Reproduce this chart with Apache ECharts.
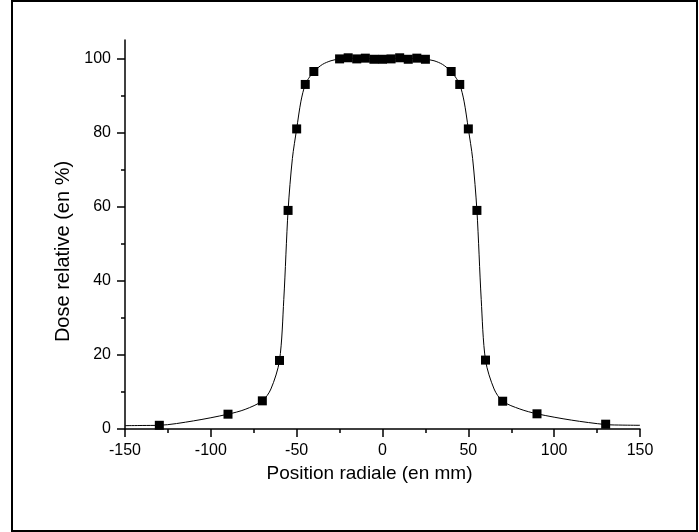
<!DOCTYPE html>
<html lang="fr">
<head>
    <meta charset="UTF-8">
    <title>Dose relative</title>
    <script src="https://cdn.jsdelivr.net/npm/echarts@6/dist/echarts.min.js"></script>
    <style>
        body{
            margin: 0;
            background: #fff;
        }
        #chart{
            width: 699px;
            height: 532px;
        }
    </style>
</head>
<body>
<div id="chart"></div>
<script>
    // points mesurés (carrés)
    var pointX = [-130, -90, -70, -60, -55, -50, -45, -40, -25, -20, -15, -10, -5, 0, 5, 10, 15, 20, 25, 40, 45, 50, 55, 60, 70, 90, 130];
    var pointY = [1.0, 4.0, 7.6, 18.5, 59, 81, 93, 96.5, 99.9, 100.2, 99.9, 100.1, 99.8, 99.8, 99.9, 100.2, 99.8, 100.1, 99.8, 96.5, 93, 81, 59, 18.6, 7.5, 4.1, 1.3];

    // courbe d'ajustement
    var curveX = [-150, -140, -130, -110, -90, -80, -70, -65, -60, -57.5, -55, -52.5, -50, -47.5, -45, -42.5, -40, -35, -30, -25, -20, -15, -10, -5, 0, 5, 10, 15, 20, 25, 30, 35, 40, 42.5, 45, 47.5, 50, 52.5, 55, 57.5, 60, 65, 70, 80, 90, 110, 130, 140, 150];
    var curveY = [0.9, 0.95, 1.0, 2.2, 4.0, 5.3, 7.6, 10.8, 18.5, 35, 59, 73, 81, 88.5, 93, 95, 96.5, 98.4, 99.4, 99.9, 100.1, 100, 100, 99.9, 99.8, 99.9, 100.1, 100, 100, 99.8, 99.4, 98.4, 96.5, 95, 93, 88.5, 81, 73, 59, 35, 18.6, 10.8, 7.5, 5.4, 4.1, 2.4, 1.2, 1.05, 1.0];

    var xTicks = [-150, -100, -50, 0, 50, 100, 150];
    var xMinorTicks = [-125, -75, -25, 25, 75, 125];
    var yTicks = [0, 20, 40, 60, 80, 100];
    var yMinorTicks = [10, 30, 50, 70, 90];

    var pts = [], curve = [];
    for (var i = 0; i < pointX.length; i++) pts.push([pointX[i], pointY[i]]);
    for (var j = 0; j < curveX.length; j++) curve.push([curveX[j], curveY[j]]);

    var font = '"Liberation Sans", Arial, sans-serif';
    var black = {color: '#000', width: 1.5};
    var myChart = echarts.init(document.getElementById('chart'));
    myChart.setOption({
        animation: false,
        grid: {left: 125, right: 59, top: 40, bottom: 103},
        graphic: [{
            type: 'rect',
            shape: {x: 12, y: 1, width: 685, height: 530},
            style: {fill: 'none', stroke: '#000', lineWidth: 2},
            silent: true
        }],
        xAxis: [{
            type: 'value',
            min: -150, max: 150, interval: 50,
            name: 'Position radiale (en mm)',
            nameLocation: 'middle',
            nameGap: 29,
            nameTextStyle: {fontFamily: font, fontSize: 19, color: '#000', padding: [0, 26, 0, 0]},
            axisLine: {onZero: false, lineStyle: black},
            axisTick: {show: true, length: 8, customValues: xTicks, lineStyle: black},
            axisLabel: {fontFamily: font, fontSize: 16, color: '#000', margin: 14, customValues: xTicks},
            splitLine: {show: false}
        }, {
            type: 'value',
            position: 'bottom',
            min: -150, max: 150,
            axisLine: {show: false, onZero: false},
            axisTick: {show: true, length: 4, customValues: xMinorTicks, lineStyle: black},
            axisLabel: {show: false},
            splitLine: {show: false}
        }],
        yAxis: [{
            type: 'value',
            min: 0, max: 105,
            name: 'Dose relative (en %)',
            nameLocation: 'middle',
            nameGap: 50,
            nameTextStyle: {fontFamily: font, fontSize: 20, color: '#000', padding: [0, 34, 0, 0]},
            axisLine: {show: true, onZero: false, lineStyle: black},
            axisTick: {show: true, length: 8, customValues: yTicks, lineStyle: black},
            axisLabel: {fontFamily: font, fontSize: 16, color: '#000', margin: 14, customValues: yTicks},
            splitLine: {show: false}
        }, {
            type: 'value',
            position: 'left',
            min: 0, max: 105,
            axisLine: {show: false, onZero: false},
            axisTick: {show: true, length: 4, customValues: yMinorTicks, lineStyle: black},
            axisLabel: {show: false},
            splitLine: {show: false}
        }],
        series: [{
            name: 'ajustement',
            type: 'line',
            data: curve,
            smooth: 0.3,
            showSymbol: false,
            lineStyle: {color: '#000', width: 1},
            z: 2
        }, {
            name: 'mesures',
            type: 'scatter',
            data: pts,
            symbol: 'rect',
            symbolSize: 9,
            itemStyle: {color: '#000', opacity: 1},
            z: 3
        }]
    });
</script>
</body>
</html>
